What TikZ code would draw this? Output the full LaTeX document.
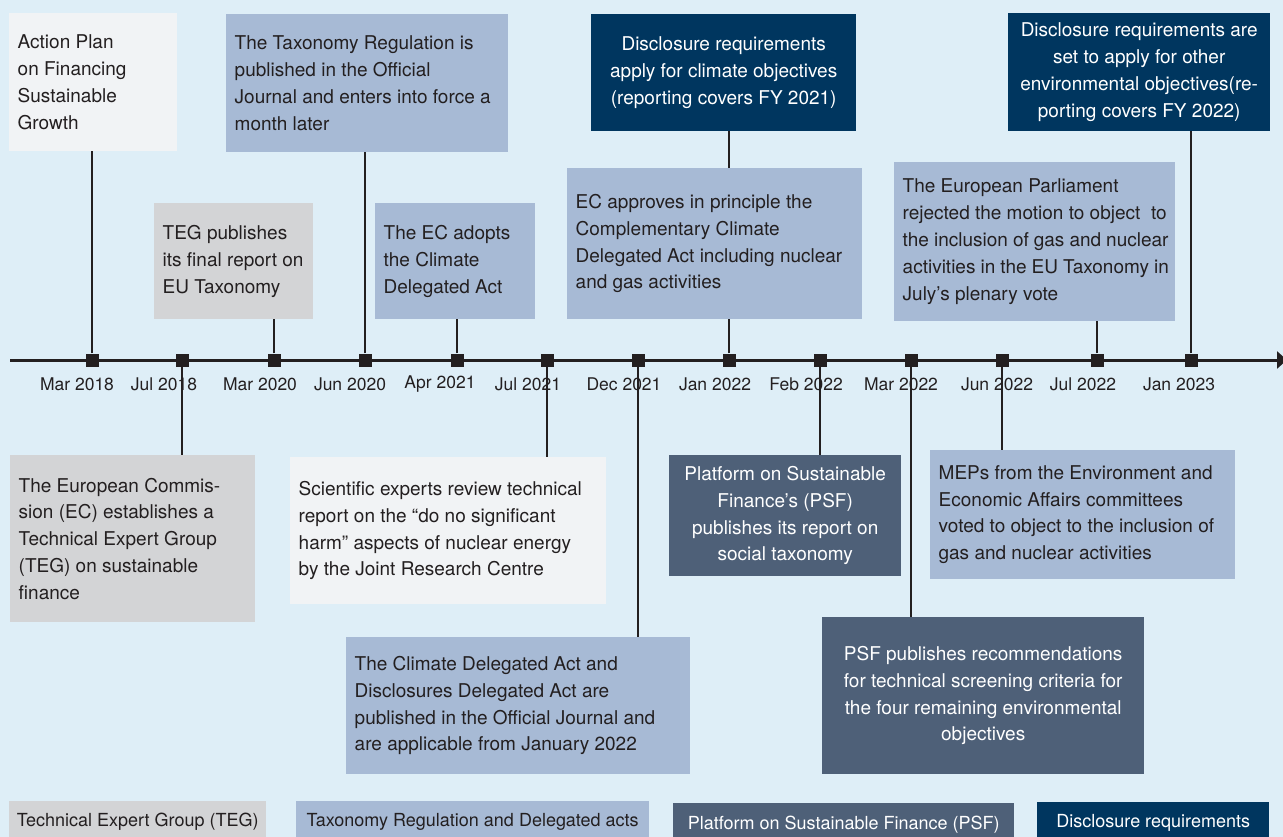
\documentclass[tikz,border=0pt]{standalone}
\usepackage{fontspec}
\setmainfont{TeX Gyre Heros}
\usetikzlibrary{arrows.meta}

\definecolor{bgblue}{HTML}{DEEEF7}
\definecolor{palegrey}{HTML}{F1F3F5}
\definecolor{midgrey}{HTML}{D3D4D6}
\definecolor{steelblue}{HTML}{A7BAD5}
\definecolor{slate}{HTML}{4E6078}
\definecolor{navy}{HTML}{00365F}
\definecolor{ink}{HTML}{231F20}

\newcommand{\cardfont}{\fontsize{19}{26.8}\selectfont}
\newcommand{\datefont}{\fontsize{17.5}{20}\selectfont}
\newcommand{\legendfont}{\fontsize{18}{20}\selectfont}

\tikzset{
  cardbase/.style={anchor=north west, inner ysep=0pt, font=\cardfont},
  card/.style={cardbase, inner xsep=8.5pt, text=ink, align=left,
    execute at begin node={\rightskip=0pt plus 3em minus 14pt\spaceskip=0pt\xspaceskip=0pt\linepenalty=1000\hyphenpenalty=10000\relax}},
  palecard/.style={card, fill=palegrey},
  tegcard/.style={card, fill=midgrey},
  regcard/.style={card, fill=steelblue},
  darkcard/.style={cardbase, inner xsep=4pt, text=white, align=center,
    execute at begin node={\leftskip=0pt plus 1fil\rightskip=0pt plus 1fil\parfillskip=0pt\spaceskip=0pt\xspaceskip=0pt\linepenalty=1000\hyphenpenalty=10000\relax}},
  psfcard/.style={darkcard, fill=slate},
  disccard/.style={darkcard, fill=navy},
  datemark/.style={fill=ink, minimum size=13pt, inner sep=0pt},
  stem/.style={draw=ink, line width=1.4pt},
  datelab/.style={font=\datefont, text=ink},
  legendbox/.style={anchor=north west, inner sep=0pt, minimum height=42pt,
    font=\legendfont, text=ink}
}

\begin{document}
\begin{tikzpicture}[x=1pt, y=-1pt]
    % Background
    \fill[bgblue] (0,0) rectangle (1283,837);
    \useasboundingbox (0,0) rectangle (1283,837);

    % Timeline axis
    \coordinate (start) at (10,360);
    \coordinate (end) at (1287,360);
    \draw[line width=3pt, draw=ink, -{Triangle[length=10pt,width=17pt]}] (start) -- (end);

    % Date marks on the axis
    \node[datemark] (t1) at (92,360) {};
    \node[datemark] (t2) at (182,360) {};
    \node[datemark] (t3) at (274,360) {};
    \node[datemark] (t4) at (365,360) {};
    \node[datemark] (t5) at (457,360) {};
    \node[datemark] (t6) at (547,360) {};
    \node[datemark] (t7) at (638,360) {};
    \node[datemark] (t8) at (729,360) {};
    \node[datemark] (t9) at (820,360) {};
    \node[datemark] (t10) at (911,360) {};
    \node[datemark] (t11) at (1002,360) {};
    \node[datemark] (t12) at (1097,360) {};
    \node[datemark] (t13) at (1191,360) {};

    % Date labels
    \node[datelab] (l1) at (77,384) {Mar 2018};
    \node[datelab] (l2) at (164,384) {Jul 2018};
    \node[datelab] (l3) at (260,384) {Mar 2020};
    \node[datelab] (l4) at (350,384) {Jun 2020};
    \node[datelab] (l5) at (440,384) {Apr 2021};
    \node[datelab] (l6) at (528,384) {Jul 2021};
    \node[datelab] (l7) at (624,384) {Dec 2021};
    \node[datelab] (l8) at (715,384) {Jan 2022};
    \node[datelab] (l9) at (806,384) {Feb 2022};
    \node[datelab] (l10) at (901,384) {Mar 2022};
    \node[datelab] (l11) at (997,384) {Jun 2022};
    \node[datelab] (l12) at (1083,384) {Jul 2022};
    \node[datelab] (l13) at (1179,384) {Jan 2023};

    % Events above the axis
    \node[palecard, text width=151pt, minimum height=138pt] (plan) at (9,13)
      {Action Plan\\on Financing\\Sustainable\\Growth};
    \node[regcard, text width=265pt, minimum height=138pt] (regul) at (226,14)
      {The Taxonomy Regulation is\\published in the Official\\Journal and enters into force a\\month later};
    \node[disccard, text width=257pt, minimum height=117pt] (climdisc) at (591,14)
      {Disclosure requirements\\apply for climate objectives\\(reporting covers FY 2021)};
    \node[disccard, text width=254pt, minimum height=118pt] (envdisc) at (1008,13)
      {Disclosure requirements are\\set to apply for other\\environmental objectives(re-\\porting covers FY 2022)};
    \node[tegcard, text width=142pt, minimum height=116pt] (tegrep) at (154,203)
      {TEG publishes\\its final report on\\EU Taxonomy};
    \node[regcard, text width=143pt, minimum height=116pt] (climact) at (375,203)
      {The EC adopts\\the Climate\\Delegated Act};
    \node[regcard, text width=278pt, minimum height=151pt] (complact) at (567,168)
      {EC approves in principle the\\Complementary Climate\\Delegated Act including nuclear\\and gas activities};
    \node[regcard, text width=264pt, minimum height=159pt] (parl) at (894,162)
      {The European Parliament\\rejected the motion to object~ to\\the inclusion of gas and nuclear\\activities in the EU Taxonomy in\\July's plenary vote};

    % Events below the axis
    \node[tegcard, text width=228pt, minimum height=167pt] (tegset) at (10,455)
      {The European Commis-\\sion (EC) establishes a\\Technical Expert Group\\(TEG) on sustainable\\finance};
    \node[palecard, text width=299pt, minimum height=147pt] (jrc) at (290,457)
      {Scientific experts review technical\\report on the “do no significant\\harm” aspects of nuclear energy\\by the Joint Research Centre};
    \node[psfcard, text width=224pt, minimum height=121pt] (social) at (669,455)
      {Platform on Sustainable\\Finance’s (PSF)\\publishes its report on\\social taxonomy};
    \node[regcard, text width=288pt, minimum height=129pt] (meps) at (930,450)
      {MEPs from the Environment and\\Economic Affairs committees\\voted to object to the inclusion of\\gas and nuclear activities};
    \node[regcard, text width=327pt, minimum height=137pt] (delact) at (346,637)
      {The Climate Delegated Act and\\Disclosures Delegated Act are\\published in the Official Journal and\\are applicable from January 2022};
    \node[psfcard, text width=314pt, minimum height=157pt] (psfrec) at (822,617)
      {PSF publishes recommendations\\for technical screening criteria for\\the four remaining environmental\\objectives};

    % Stems from the axis to the events
    \draw[stem] (t1) -- (t1 |- plan.south);
    \draw[stem] (t2) -- (t2 |- tegset.north);
    \draw[stem] (t3) -- (t3 |- tegrep.south);
    \draw[stem] (t4) -- (t4 |- regul.south);
    \draw[stem] (t5) -- (t5 |- climact.south);
    \draw[stem] (t6) -- (t6 |- jrc.north);
    \draw[stem] (t7) -- (t7 |- delact.north);
    \draw[stem] (t8) -- (t8 |- complact.south);
    \draw[stem] (t8 |- complact.north) -- (t8 |- climdisc.south);
    \draw[stem] (t9) -- (t9 |- social.north);
    \draw[stem] (t10) -- (t10 |- psfrec.north);
    \draw[stem] (t11) -- (t11 |- meps.north);
    \draw[stem] (t12) -- (t12 |- parl.south);
    \draw[stem] (t13) -- (t13 |- envdisc.south);

    % Legend
    \node[legendbox, fill=midgrey, minimum width=257pt] (keyteg) at (9,801)
      {Technical Expert Group (TEG)};
    \node[legendbox, fill=steelblue, minimum width=353pt] (keyreg) at (296,801)
      {Taxonomy Regulation and Delegated acts};
    \node[legendbox, fill=slate, text=white, minimum width=341pt] (keypsf) at (673,803)
      {Platform on Sustainable Finance (PSF)};
    \node[legendbox, fill=navy, text=white, minimum width=232pt] (keydisc) at (1037,802)
      {Disclosure requirements};

\end{tikzpicture}
\end{document}
